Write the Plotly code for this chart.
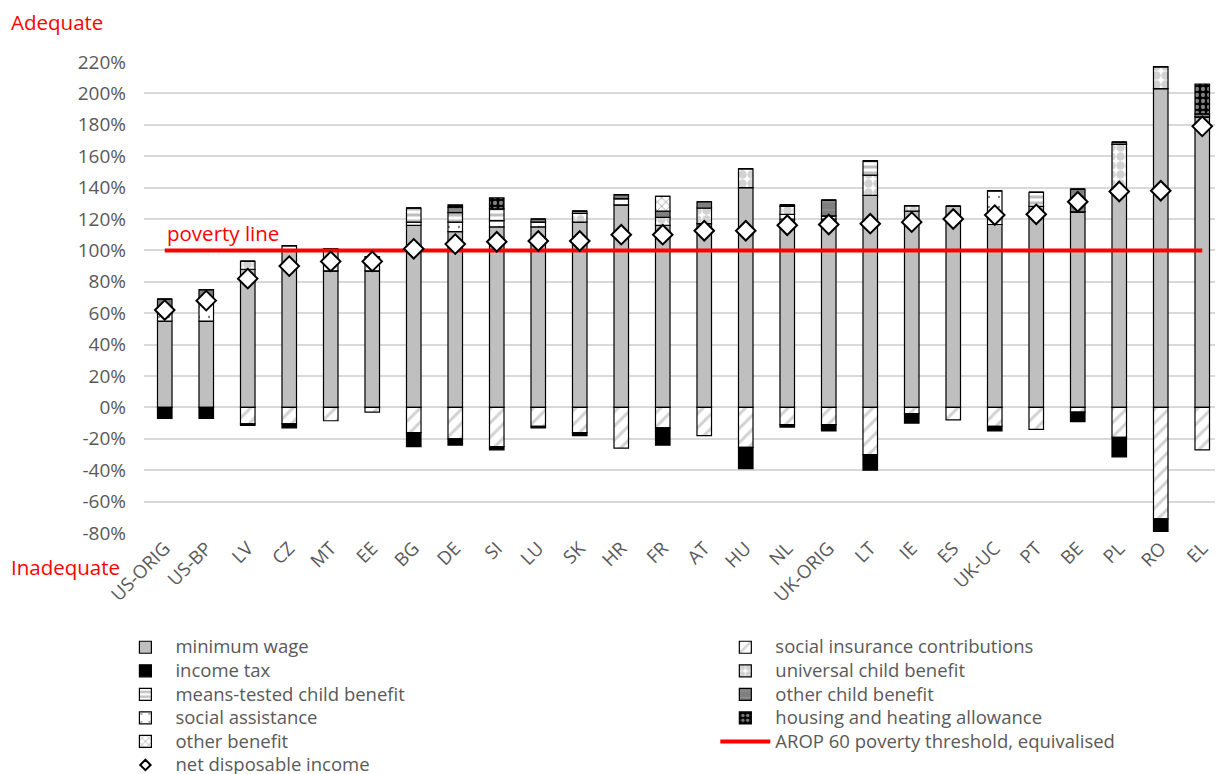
import plotly.graph_objects as go

categories = ["US-ORIG", "US-BP", "LV", "CZ", "MT", "EE", "BG", "DE", "SI", "LU", "SK", "HR", "FR",
              "AT", "HU", "NL", "UK-ORIG", "LT", "IE", "ES", "UK-UC", "PT", "BE", "PL", "RO", "EL"]

minimum_wage = [55, 55, 88, 100, 87, 87, 116, 112, 115, 115, 118, 129, 116,
                117, 140, 120, 120, 135, 125, 128, 116.5, 128, 124.5, 139, 203, 185]
social_insurance = [0, 0, -10.5, -10.5, -8.5, -3, -16, -20, -25, -12, -16, -26, -13,
                    -18, -25.5, -11, -11, -30, -4, -8, -12, -14, -3, -19, -71, -27]
income_tax = [-7, -7, -1, -2.5, 0, 0, -9, -4, -2, -1, -2, 0, -11,
              0, -13.5, -1.5, -4, -10, -6, 0, -3, 0, -6, -12.5, -8, 0]
social_assistance = [9, 13, 0, 0, 0, 0, 2, 6, 4, 3, 0, 4, 0,
                     0, 0, 3, 2, 0, 0, 0, 21.5, 0, 0, 0, 0, 0]
universal_child = [0, 0, 5, 0, 14, 9, 0, 0, 0, 0, 5.5, 0, 5,
                   10, 12, 5, 0, 13, 3.5, 0, 0, 0, 0, 28.5, 14, 0]
means_tested_child = [0, 0, 0, 3, 0, 0, 9, 6, 7.5, 0, 0, 0, 0,
                      0, 0, 0, 0, 9, 0, 0, 0, 9, 0, 0, 0, 0]
other_child = [5, 7, 0, 0, 0, 0, 0, 3.5, 0, 2, 1.5, 2.5, 4,
               4, 0, 1, 10, 0, 0, 0, 0, 0, 14.5, 1.5, 0, 2]
other_benefit = [0, 0, 0, 0, 0, 0, 0, 0, 0, 0, 0, 0, 9.5,
                 0, 0, 0, 0, 0, 0, 0, 0, 0, 0, 0, 0, 0]
housing_heating = [0, 0, 0, 0, 0, 0, 0, 1.5, 7, 0, 0, 0, 0,
                   0, 0, 0, 0, 0, 0, 0, 0, 0, 0, 0, 0, 19]
net_disposable = [62, 68, 82, 90, 93, 93, 101, 104, 105.5, 106, 106, 110, 110,
                  112.5, 112.5, 116, 116.5, 117, 118, 120, 122.5, 123, 131, 137.5, 138, 179]
poverty_threshold = [100] * len(categories)

y_ticks = list(range(-80, 221, 20))
y_tick_text = [f"{v}%" for v in y_ticks]

FONT = "Open Sans"
GREY_TXT = "#595959"
OUTLINE = dict(color="#000000", width=1.2)
BAR_W = 0.35
LEG_TXT = '<span style="font-size:18.5px">{}</span>'

fig = go.Figure()


def add_bar(name, values, color, legend, rank, pattern=None):
    marker = dict(color=color, line=OUTLINE)
    if pattern:
        marker["pattern"] = pattern
    fig.add_trace(go.Bar(x=categories, y=values, name=LEG_TXT.format(name), marker=marker,
                         width=BAR_W, legend=legend, legendrank=rank))


add_bar("minimum wage", minimum_wage, "#BFBFBF", "legend", 1)
add_bar("social insurance contributions", social_insurance, "#FFFFFF", "legend2", 1,
        dict(shape="/", fgcolor="#A6A6A6", bgcolor="#FFFFFF", size=10, solidity=0.3))
add_bar("income tax", income_tax, "#000000", "legend", 2)
add_bar("social assistance", social_assistance, "#FFFFFF", "legend", 4,
        dict(shape=".", fgcolor="#000000", bgcolor="#FFFFFF", size=10, solidity=0.04))
add_bar("universal child benefit", universal_child, "#FFFFFF", "legend2", 2,
        dict(shape=".", fgcolor="#A6A6A6", bgcolor="#FFFFFF", size=9, solidity=0.7))
add_bar("means-tested child benefit", means_tested_child, "#FFFFFF", "legend", 3,
        dict(shape="-", fgcolor="#7F7F7F", bgcolor="#FFFFFF", size=6, solidity=0.5))
add_bar("other child benefit", other_child, "#7F7F7F", "legend2", 3,
        dict(shape="-", fgcolor="#A6A6A6", bgcolor="#7F7F7F", size=8, solidity=0.15))
add_bar("other benefit", other_benefit, "#FFFFFF", "legend", 5,
        dict(shape="x", fgcolor="#000000", bgcolor="#FFFFFF", size=6, solidity=0.2))
add_bar("housing and heating allowance", housing_heating, "#000000", "legend2", 4,
        dict(shape=".", fgcolor="#FFFFFF", bgcolor="#000000", size=6, solidity=0.4))

fig.add_trace(go.Scatter(x=categories, y=poverty_threshold, mode="lines",
                         name=LEG_TXT.format("AROP 60 poverty threshold, equivalised"),
                         line=dict(color="#FF0000", width=4), legend="legend2", legendrank=5))
fig.add_trace(go.Scatter(x=categories, y=net_disposable, mode="markers",
                         name="net disposable income", showlegend=False,
                         marker=dict(symbol="diamond", size=15, color="#FFFFFF",
                                     line=dict(color="#000000", width=2))))
# legend-only entry (small symbol, as in the reference legend)
fig.add_trace(go.Scatter(x=[None], y=[None], mode="markers",
                         name=LEG_TXT.format("net disposable income"),
                         marker=dict(symbol="diamond", size=8, color="#FFFFFF",
                                     line=dict(color="#000000", width=2)),
                         legend="legend", legendrank=6))

legend_common = dict(orientation="v", yanchor="top", y=-0.207, xanchor="left",
                     itemwidth=50, traceorder="normal", bgcolor="rgba(0,0,0,0)",
                     font=dict(family=FONT, size=15.8, color=GREY_TXT))

# page body has an 8px margin: shift the figure so the plot area lands where the reference has it
fig.update_layout(
    width=1215, height=774,
    barmode="relative",
    paper_bgcolor="#FFFFFF", plot_bgcolor="#FFFFFF",
    margin=dict(l=136, r=0, t=54, b=249.4, autoexpand=False),
    font=dict(family=FONT, size=18, color=GREY_TXT),
    showlegend=True,
    legend=dict(legend_common, x=-0.0265),
    legend2=dict(legend_common, x=0.5295),
    xaxis=dict(tickangle=-45, showgrid=False, showline=False, ticks="", automargin=False,
               range=[-0.5, len(categories) - 0.5],
               tickfont=dict(family=FONT, size=18.5, color=GREY_TXT)),
    yaxis=dict(range=[-80, 220], tickvals=y_ticks, ticktext=y_tick_text, automargin=False,
               showgrid=True, gridcolor="#D9D9D9", gridwidth=1.5,
               zeroline=False, showline=False, ticks="", ticklabelstandoff=17,
               tickfont=dict(family=FONT, size=19, color=GREY_TXT)),
)

fig.add_annotation(text="Adequate", xref="paper", yref="paper", x=-0.125, y=1.085,
                   xanchor="left", yanchor="middle", showarrow=False,
                   font=dict(family=FONT, size=20.5, color="#FF0000"))
fig.add_annotation(text="Inadequate", xref="paper", yref="paper", x=-0.125, y=-0.073,
                   xanchor="left", yanchor="middle", showarrow=False,
                   font=dict(family=FONT, size=20.5, color="#FF0000"))
fig.add_annotation(text="poverty line", xref="x", yref="y", x=categories[0], y=poverty_threshold[0],
                   xanchor="left", yanchor="bottom", yshift=1, showarrow=False,
                   font=dict(family=FONT, size=20.5, color="#FF0000"))

fig.write_html("out.html")
